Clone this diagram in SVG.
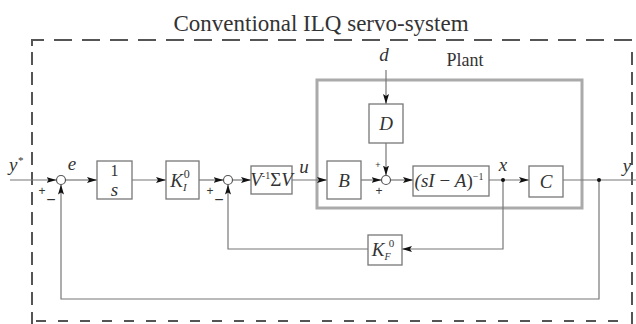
<svg xmlns="http://www.w3.org/2000/svg" width="636" height="324" viewBox="0 0 636 324">
<defs>
<marker id="ah" viewBox="0 0 10 6" refX="10" refY="3" markerWidth="10" markerHeight="6" markerUnits="userSpaceOnUse" orient="auto">
<path d="M0,0 L10,3 L0,6 L2,3 Z" fill="#111"/>
</marker>
</defs>
<style>
.bx{fill:#fff;stroke:#777;stroke-width:1.3}
.ln{fill:none;stroke:#777;stroke-width:1.2}
.ar{fill:none;stroke:#777;stroke-width:1.2;marker-end:url(#ah)}
.sum{fill:#fff;stroke:#555;stroke-width:1.2}
.m{font-family:"Liberation Serif",serif;font-style:italic;font-size:19px;fill:#333;text-anchor:middle}
.r{font-family:"Liberation Serif",serif;fill:#333;text-anchor:middle}
.sg{font-family:"Liberation Sans",sans-serif;fill:#333;text-anchor:middle}
.dash{fill:none;stroke:#555;stroke-width:2}
</style>
<rect width="636" height="324" fill="#fff"/>
<text class="r" x="321" y="31" font-size="23">Conventional ILQ servo-system</text>
<g id="frame">
<path class="dash" d="M32,46 V40 H632 V46" stroke-dasharray="18 10"/>
<line class="dash" x1="32" y1="52" x2="32" y2="324" stroke-dasharray="13 7"/>
<line class="dash" x1="632" y1="52" x2="632" y2="324" stroke-dasharray="13 7"/>
<line class="dash" x1="36" y1="321" x2="630" y2="321" stroke-dasharray="10 12" stroke="#bbb"/>
</g>
<g id="plant">
<rect x="317" y="80" width="265" height="128" fill="none" stroke="#aaa" stroke-width="3"/>
<text class="r" x="465" y="66" font-size="18">Plant</text>
</g>
<g id="connectors">
<line class="ar" x1="10" y1="180" x2="56.5" y2="180"/>
<line class="ar" x1="65.5" y1="180" x2="97" y2="180"/>
<line class="ar" x1="132" y1="180" x2="166" y2="180"/>
<line class="ar" x1="199" y1="180" x2="223.5" y2="180"/>
<line class="ar" x1="232.5" y1="180" x2="251" y2="180"/>
<line class="ar" x1="292" y1="180" x2="327" y2="180"/>
<line class="ar" x1="361" y1="180" x2="381.5" y2="180"/>
<line class="ar" x1="386" y1="70" x2="386" y2="104"/>
<line class="ar" x1="386" y1="143" x2="386" y2="175.5"/>
<line class="ar" x1="390.5" y1="180" x2="413" y2="180"/>
<line class="ar" x1="489" y1="180" x2="529" y2="180"/>
<line class="ln" x1="563" y1="180" x2="636" y2="180"/>
<polyline class="ar" points="503,180 503,249 402,249"/>
<polyline class="ar" points="368,249 228,249 228,184.5"/>
<polyline class="ar" points="599,180 599,299 61,299 61,184.5"/>
<circle cx="503" cy="180" r="2" fill="#111"/>
<circle cx="599" cy="180" r="2" fill="#111"/>
</g>
<g id="sum1">
<circle class="sum" cx="61" cy="180" r="4.5"/>
<text class="sg" x="42" y="195" font-size="12">+</text>
<text class="sg" x="51" y="205" font-size="16">−</text>
</g>
<g id="sum2">
<circle class="sum" cx="228" cy="180" r="4.5"/>
<text class="sg" x="210" y="195" font-size="12">+</text>
<text class="sg" x="219" y="205" font-size="16">−</text>
</g>
<g id="sum3">
<circle class="sum" cx="386" cy="180" r="4.5"/>
<text class="sg" x="379" y="195" font-size="12">+</text>
<text class="sg" x="378" y="168" font-size="9">+</text>
</g>
<g id="labels">
<text class="m" x="16" y="171">y<tspan font-size="11" dy="-7">*</tspan></text>
<text class="m" x="72" y="170">e</text>
<text class="m" x="304" y="173">u</text>
<text class="m" x="384" y="61">d</text>
<text class="m" x="503" y="171">x</text>
<text class="m" x="627" y="172">y</text>
</g>
<g id="integrator">
<rect class="bx" x="97" y="161" width="35" height="38"/>
<text class="r" x="114.5" y="176" font-size="16">1</text>
<text class="m" x="114.5" y="196" font-size="17">s</text>
</g>
<g id="KI">
<rect class="bx" x="166" y="161" width="33" height="38"/>
<text class="m" x="180" y="187">K<tspan font-size="11" dy="4">I</tspan><tspan font-size="12" font-style="normal" dx="-3" dy="-13">0</tspan></text>
</g>
<g id="V">
<rect class="bx" x="251" y="166" width="41" height="28"/>
<text class="m" x="271.5" y="186" font-size="17">V<tspan font-size="10" font-style="normal" dy="-7">-1</tspan><tspan font-style="normal" dy="7">Σ</tspan>V</text>
</g>
<g id="B">
<rect class="bx" x="327" y="161" width="34" height="38"/>
<text class="m" x="344" y="187">B</text>
</g>
<g id="D">
<rect class="bx" x="369" y="104" width="34" height="39"/>
<text class="m" x="386" y="130">D</text>
</g>
<g id="resolvent">
<rect class="bx" x="413" y="166" width="76" height="30"/>
<text class="m" x="449" y="187" font-size="18">(sI<tspan font-style="normal"> − </tspan>A<tspan font-style="normal">)</tspan><tspan font-size="10" font-style="normal" dy="-7">−1</tspan></text>
</g>
<g id="C">
<rect class="bx" x="529" y="166" width="34" height="31"/>
<text class="m" x="546" y="188">C</text>
</g>
<g id="KF">
<rect class="bx" x="368" y="235" width="34" height="30"/>
<text class="m" x="383" y="256" font-size="17">K<tspan font-size="10" dy="4">F</tspan><tspan font-size="11" font-style="normal" dx="-2" dy="-13">0</tspan></text>
</g>
</svg>
